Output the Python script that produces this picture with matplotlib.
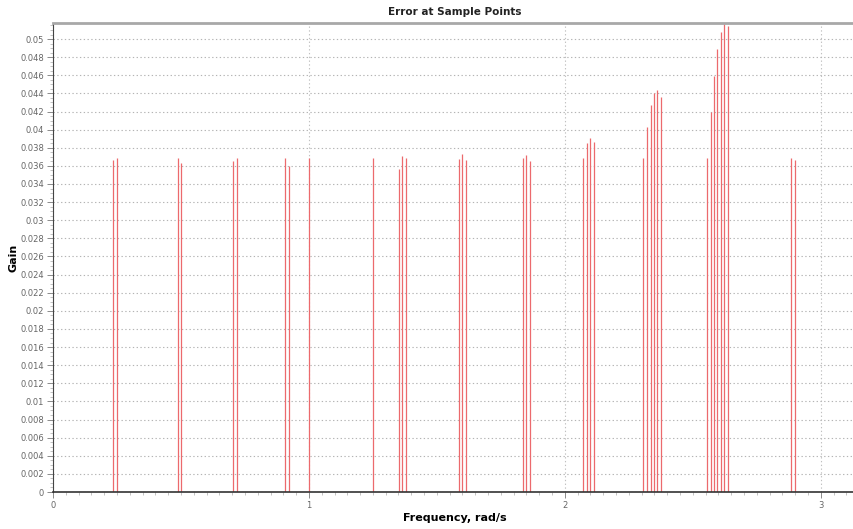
import numpy as np
import matplotlib
matplotlib.use("Agg")
import matplotlib.pyplot as plt
from matplotlib.ticker import MultipleLocator, FuncFormatter

# sample point frequencies (rad/s) and error gain
freq = [0.2355, 0.251,
        0.487, 0.500,
        0.704, 0.718,
        0.906, 0.923,
        1.000,
        1.251,
        1.353, 1.364, 1.378,
        1.587, 1.600, 1.613,
        1.836, 1.850, 1.864,
        2.071, 2.086, 2.099, 2.112,
        2.306, 2.321, 2.336, 2.349, 2.362, 2.375,
        2.557, 2.573, 2.583, 2.596, 2.609, 2.622, 2.637,
        2.885, 2.901]
gain = [0.0366, 0.0369,
        0.0369, 0.0363,
        0.0365, 0.0369,
        0.0369, 0.0360,
        0.0369,
        0.0369,
        0.0356, 0.0371, 0.0369,
        0.0368, 0.0373, 0.0366,
        0.0369, 0.0372, 0.0365,
        0.0369, 0.0385, 0.0391, 0.0386,
        0.0369, 0.0403, 0.0427, 0.0440, 0.0444, 0.0436,
        0.0369, 0.0419, 0.0459, 0.0489, 0.0508, 0.0517, 0.0514,
        0.0369, 0.0367]

fig = plt.figure(figsize=(8.54, 5.29), dpi=100)
ax = fig.add_axes([53 / 854, 37 / 529, (857 - 53) / 854, 469 / 529])

ax.vlines(freq, 0, gain, color='#ec6a6d', linewidth=0.9)

ax.set_xlim(0, np.pi)
ax.set_ylim(0, 0.05177)

ax.yaxis.set_major_locator(MultipleLocator(0.002))
ax.yaxis.set_minor_locator(MultipleLocator(0.0005))
ax.xaxis.set_major_locator(MultipleLocator(1))
ax.xaxis.set_minor_locator(MultipleLocator(0.05))
ax.yaxis.set_major_formatter(FuncFormatter(lambda v, p: '0' if abs(v) < 1e-9 else ('%.3f' % v).rstrip('0')))

ax.grid(True, which='major', axis='y', color='#b4b4b4', linestyle=(0, (1.2, 2.2)), linewidth=0.8)
ax.grid(True, which='major', axis='x', color='#c0c0c0', linestyle=(0, (1.2, 2.2)), linewidth=0.8)
ax.set_axisbelow(True)

ax.tick_params(axis='both', which='major', labelsize=6.0, labelcolor='#666666',
               length=4, width=0.6, color='#777777', pad=2.5)
ax.tick_params(axis='both', which='minor', length=2, width=0.5, color='#aaaaaa')

ax.spines['right'].set_visible(False)
ax.spines['top'].set_color('#a8a8a8')
ax.spines['top'].set_linewidth(2)
ax.spines['left'].set_color('#444444')
ax.spines['left'].set_linewidth(0.8)
ax.spines['bottom'].set_color('#333333')
ax.spines['bottom'].set_linewidth(1.2)

ax.set_title('Error at Sample Points', fontsize=7.5, fontweight='bold', color='#222222', pad=6)
ax.set_xlabel('Frequency, rad/s', fontsize=8, fontweight='bold')
ax.set_ylabel('Gain', fontsize=8, fontweight='bold')
ax.xaxis.set_label_coords(0.5, -21 / 469)
ax.yaxis.set_label_coords(-34 / 804, 0.5)

plt.savefig('out.png', dpi=100)
